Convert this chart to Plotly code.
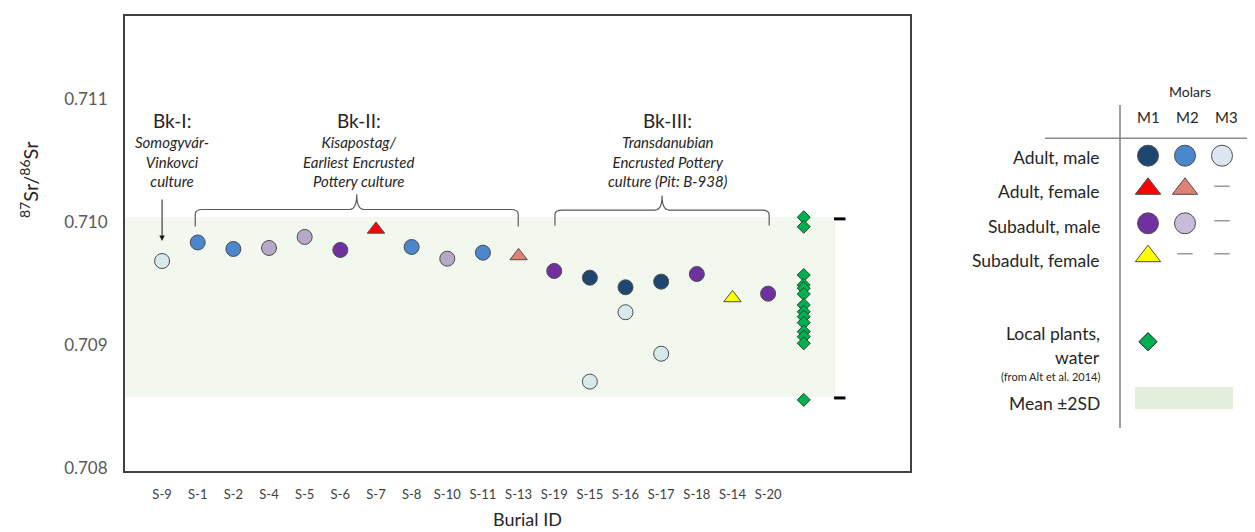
import plotly.graph_objects as go

# ---------------- data ----------------
burials = ["S-9", "S-1", "S-2", "S-4", "S-5", "S-6", "S-7", "S-8", "S-10", "S-11",
           "S-13", "S-19", "S-15", "S-16", "S-17", "S-18", "S-14", "S-20"]

adult_male_m1_ids = ["S-15", "S-16", "S-17"]
adult_male_m1_val = [0.709549, 0.709471, 0.709517]

adult_male_m2_ids = ["S-1", "S-2", "S-8", "S-11"]
adult_male_m2_val = [0.709836, 0.709783, 0.709799, 0.709753]

adult_male_m3_ids = ["S-9", "S-15", "S-16", "S-17"]
adult_male_m3_val = [0.709685, 0.708703, 0.709268, 0.708930]

adult_female_m1_ids = ["S-7"]
adult_female_m1_val = [0.709942]

adult_female_m2_ids = ["S-13"]
adult_female_m2_val = [0.709726]

subadult_male_m1_ids = ["S-6", "S-19", "S-18", "S-20"]
subadult_male_m1_val = [0.709775, 0.709604, 0.709579, 0.709419]

subadult_male_m2_ids = ["S-4", "S-5", "S-10"]
subadult_male_m2_val = [0.709791, 0.709881, 0.709704]

subadult_female_m1_ids = ["S-14"]
subadult_female_m1_val = [0.709384]

plants_val = [0.710041, 0.709964, 0.709571, 0.709490, 0.709463, 0.709416, 0.709327,
              0.709272, 0.709232, 0.709183, 0.709110, 0.709069, 0.709015, 0.708554]

band_upper = 0.710043   # mean + 2SD
band_lower = 0.708578   # mean - 2SD

y_ticks = [0.708, 0.709, 0.710, 0.711]
y_ticktext = ["0.708", "0.709", "0.710", "0.711"]

# ---------------- layout helpers ----------------
OFF = 8                      # page body margin of the browser
W, H = 1255 - OFF, 532 - OFF
ML, MR = 125 - OFF, 5
MT = 16 - OFF
MB = H - (471 - OFF)
PW, PH = W - ML - MR, H - MT - MB


def pxx(px):
    """reference-picture x pixel -> paper coordinate"""
    return (px - OFF - ML) / PW


def pxy(py):
    """reference-picture y pixel -> paper coordinate"""
    return (H - MB - (py - OFF)) / PH


xpos = {b: i for i, b in enumerate(burials)}
plants_x = len(burials)
XR = [-1.04, 20.98]
YR = [0.707975, 0.71168]

FONT = "Lato, Open Sans, sans-serif"
TXT = "#262626"

C_NAVY = "#1f4670"
C_BLUE = "#4a87cc"
C_LIGHT = "#d8e9ec"
C_RED = "#ff0000"
C_SALMON = "#df8275"
C_PURPLE = "#7030a0"
C_LAV = "#b6a8c9"
C_YELLOW = "#ffff00"
C_GREEN = "#00b050"
OUT = "#4d4d4d"

fig = go.Figure()


def add_series(ids, vals, color, symbol, size):
    fig.add_trace(go.Scatter(
        x=[xpos[b] for b in ids], y=vals, mode="markers",
        marker=dict(color=color, symbol=symbol, size=size,
                    line=dict(color=OUT, width=1)),
        showlegend=False, hoverinfo="y"))


add_series(adult_male_m3_ids, adult_male_m3_val, C_LIGHT, "circle", 15)
add_series(adult_male_m2_ids, adult_male_m2_val, C_BLUE, "circle", 15)
add_series(adult_male_m1_ids, adult_male_m1_val, C_NAVY, "circle", 15)
add_series(subadult_male_m2_ids, subadult_male_m2_val, C_LAV, "circle", 15)
add_series(subadult_male_m1_ids, subadult_male_m1_val, C_PURPLE, "circle", 15)
add_series(adult_female_m1_ids, adult_female_m1_val, C_RED, "triangle-up", 15)
add_series(adult_female_m2_ids, adult_female_m2_val, C_SALMON, "triangle-up", 15)
add_series(subadult_female_m1_ids, subadult_female_m1_val, C_YELLOW, "triangle-up", 15)

fig.add_trace(go.Scatter(
    x=[plants_x] * len(plants_val), y=plants_val, mode="markers",
    marker=dict(color=C_GREEN, symbol="diamond", size=10,
                line=dict(color="#1c4a2a", width=1)),
    showlegend=False, hoverinfo="y"))

# ---------------- key (second axis, y in reference pixels) ----------------
key_rows_px = {"am": 155.7, "af": 188.8, "sm": 223.3, "sf": 256.2, "pl": 341.7}


def add_key(col, row, color, symbol, size, lw=1, lcolor=OUT):
    fig.add_trace(go.Scatter(
        x=[col], y=[key_rows_px[row]], xaxis="x2", yaxis="y2", mode="markers",
        marker=dict(color=color, symbol=symbol, size=size,
                    line=dict(color=lcolor, width=lw)),
        showlegend=False, hoverinfo="skip"))


add_key(1, "am", C_NAVY, "circle", 21)
add_key(2, "am", C_BLUE, "circle", 21)
add_key(3, "am", "#dde7f2", "circle", 21)
add_key(1, "af", C_RED, "triangle-up", 22)
add_key(2, "af", C_SALMON, "triangle-up", 22)
add_key(1, "sm", C_PURPLE, "circle", 21)
add_key(2, "sm", "#c9bcdb", "circle", 21)
add_key(1, "sf", C_YELLOW, "triangle-up", 22)
add_key(1, "pl", C_GREEN, "diamond", 14, lw=1, lcolor="#1c1c1c")
for c, r in [(3, "af"), (3, "sm"), (2, "sf"), (3, "sf")]:
    fig.add_trace(go.Scatter(
        x=[c], y=[key_rows_px[r] - 2.5], xaxis="x2", yaxis="y2", mode="markers",
        marker=dict(symbol="line-ew", size=11, color="#9a9a9a",
                    line=dict(color="#9a9a9a", width=1.5)),
        showlegend=False, hoverinfo="skip"))

shapes = []
# mean +/- 2SD band
shapes.append(dict(type="rect", xref="x", yref="y", x0=XR[0], x1=18.88,
                   y0=band_lower, y1=band_upper, fillcolor="#f3f8ee",
                   line=dict(width=0), layer="below"))
for yv in (band_upper - 0.000015, band_lower - 0.000008):
    shapes.append(dict(type="line", xref="x", yref="y", x0=18.85, x1=19.17,
                       y0=yv, y1=yv, line=dict(color="black", width=3)))


def brace(x0, x1, yh, yend, ytop, dx=0.2, dy=0.00004):
    xc = (x0 + x1) / 2
    p = (f"M{x0},{yend} L{x0},{yh - dy} Q{x0},{yh} {x0 + dx},{yh} "
         f"L{xc - dx},{yh} Q{xc},{yh} {xc},{ytop} "
         f"Q{xc},{yh} {xc + dx},{yh} L{x1 - dx},{yh} "
         f"Q{x1},{yh} {x1},{yh - dy} L{x1},{yend}")
    return dict(type="path", xref="x", yref="y", path=p,
                line=dict(color="#595959", width=1.2))


shapes.append(brace(0.93, 9.99, 0.7101045, 0.709965, 0.710228))
shapes.append(brace(11.02, 17.03, 0.7101, 0.709975, 0.710218))

# key lines and swatch
shapes.append(dict(type="line", xref="paper", yref="paper", x0=pxx(1045), x1=pxx(1255),
                   y0=pxy(138.3), y1=pxy(138.3), line=dict(color="#8c8c8c", width=1.5)))
shapes.append(dict(type="line", xref="paper", yref="paper", x0=pxx(1120), x1=pxx(1120),
                   y0=pxy(105), y1=pxy(428), line=dict(color="#7f7f7f", width=1.5)))
shapes.append(dict(type="rect", xref="paper", yref="paper", x0=pxx(1135), x1=pxx(1233),
                   y0=pxy(409), y1=pxy(387), fillcolor="#e2efda", line=dict(width=0)))

ann = []


def vpx(py):
    return 0.711 - (py - 99.5) / 122830


def xp(px):
    return (px - 162.1) / 35.65


# group labels
for xc, title, sub in [
    (xp(172), "Bk-I:", "Somogyvár-<br>Vinkovci<br>culture"),
    (xp(359), "Bk-II:", "Kisapostag/<br>Earliest Encrusted<br>Pottery culture"),
    (xp(668), "Bk-III:", "Transdanubian<br>Encrusted Pottery<br>culture (Pit: B-938)"),
]:
    ann.append(dict(x=xc, y=vpx(120), xref="x", yref="y", text=title, showarrow=False,
                    font=dict(family=FONT, size=19, color=TXT), xanchor="center", yanchor="middle"))
    ann.append(dict(x=xc, y=vpx(161.7), xref="x", yref="y", text=f"<i>{sub}</i>", showarrow=False,
                    font=dict(family=FONT, size=15, color=TXT), xanchor="center", yanchor="middle"))

ann.append(dict(x=0, y=vpx(241), xref="x", yref="y", text="", showarrow=True,
                ax=0, ay=-43, axref="pixel", ayref="pixel", arrowhead=2, arrowsize=1.1,
                arrowwidth=1, arrowcolor="#1a1a1a"))

# axis titles
ann.append(dict(x=pxx(29), y=pxy(180), xref="paper", yref="paper", textangle=-90,
                text="<sup>87</sup>Sr/<sup>86</sup>Sr", showarrow=False,
                font=dict(family=FONT, size=20, color=TXT), xanchor="center", yanchor="middle"))
ann.append(dict(x=pxx(527), y=pxy(519), xref="paper", yref="paper", text="Burial ID",
                showarrow=False, font=dict(family=FONT, size=18, color=TXT),
                xanchor="center", yanchor="middle"))

# key texts
ann.append(dict(x=pxx(1190), y=pxy(91.5), xref="paper", yref="paper", text="Molars",
                showarrow=False, xanchor="center", yanchor="middle",
                font=dict(family=FONT, size=14, color=TXT)))
for px_, t in [(1148, "M1"), (1187, "M2"), (1226, "M3")]:
    ann.append(dict(x=pxx(px_), y=pxy(116.7), xref="paper", yref="paper", text=t,
                    showarrow=False, xanchor="center", yanchor="middle",
                    font=dict(family=FONT, size=15, color=TXT)))
for py_, t in [(157.3, "Adult, male"), (191.7, "Adult, female"),
               (226, "Subadult, male"), (260.7, "Subadult, female"),
               (333.3, "Local plants,"), (357.3, "water"), (403.3, "Mean ±2SD")]:
    ann.append(dict(x=pxx(1102), y=pxy(py_), xref="paper", yref="paper", text=t,
                    showarrow=False, xanchor="right", yanchor="middle",
                    font=dict(family=FONT, size=17.5, color=TXT)))
ann.append(dict(x=pxx(1102), y=pxy(376), xref="paper", yref="paper",
                text="(from Alt et al. 2014)", showarrow=False, xanchor="right",
                yanchor="middle", font=dict(family=FONT, size=11, color=TXT)))

fig.update_layout(
    width=W, height=H, margin=dict(l=ML, r=MR, t=MT, b=MB, pad=0),
    plot_bgcolor="white", paper_bgcolor="white",
    shapes=shapes, annotations=ann,
    xaxis=dict(domain=[0, pxx(910)], range=XR, tickvals=list(range(len(burials))),
               ticktext=burials, showgrid=False, zeroline=False, showline=True, mirror=True,
               linecolor="#404040", linewidth=2, ticks="", ticklabelstandoff=10,
               tickfont=dict(family=FONT, size=13, color="#404040")),
    yaxis=dict(range=YR, tickvals=y_ticks, ticktext=y_ticktext, showgrid=False,
               zeroline=False, showline=True, mirror=True, linecolor="#404040",
               linewidth=2, ticks="", ticklabelstandoff=12,
               tickfont=dict(family=FONT, size=17, color="#595959")),
    xaxis2=dict(domain=[pxx(1129.5), pxx(1240.5)], range=[0.5, 3.5], anchor="y2",
                visible=False, fixedrange=True),
    yaxis2=dict(domain=[0, 1], range=[471, 16], anchor="x2", visible=False,
                fixedrange=True),
    showlegend=False,
)

fig.write_html("out.html")
